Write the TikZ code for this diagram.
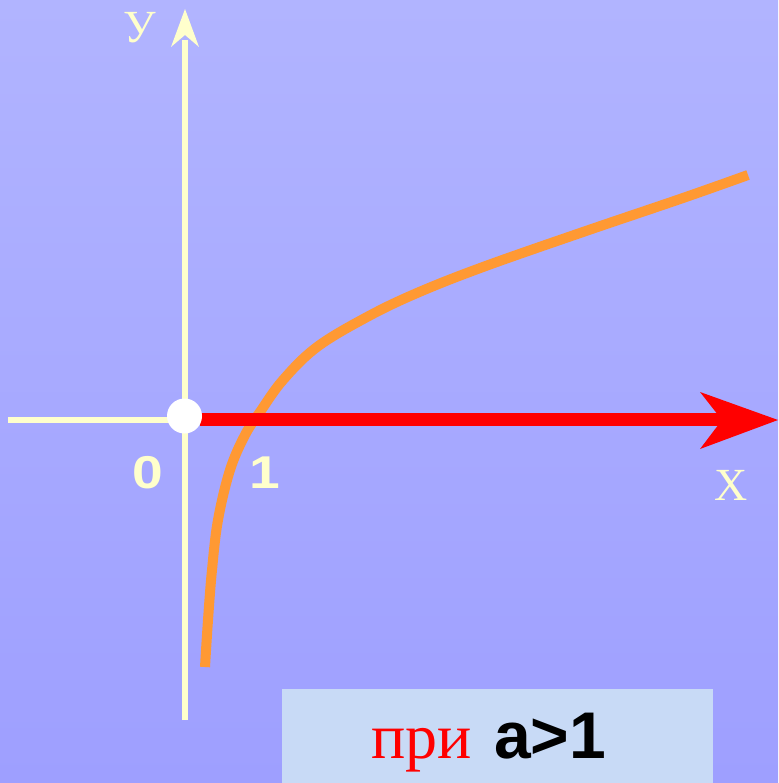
\documentclass[tikz,border=0pt]{standalone}
\usepackage{fontspec}
\setmainfont{Liberation Serif}
\newfontfamily\numfont{Liberation Sans}
\definecolor{bgtop}{RGB}{177,180,255}
\definecolor{bgbot}{RGB}{158,159,255}
\definecolor{axisyellow}{RGB}{255,255,204}
\definecolor{curveorange}{RGB}{255,153,51}
\definecolor{boxfill}{RGB}{200,218,246}
\begin{document}
\begin{tikzpicture}[x=1pt,y=-1pt,
  axisline/.style={draw=axisyellow,line width=5.5pt},
  axislabel/.style={text=axisyellow,inner sep=0pt,anchor=base,font=\fontsize{46}{46}\selectfont},
  numlabel/.style={text=axisyellow,inner sep=0pt,anchor=base,font=\numfont\bfseries\fontsize{46}{46}\selectfont},
  graphline/.style={draw=curveorange,line width=10pt},
  ]
\useasboundingbox (0,0) rectangle (778,783);
\shade[top color=bgtop,bottom color=bgbot] (0,0) rectangle (778,783);
% coordinates
\coordinate (O) at (185,420);
\coordinate (xl) at (8,420);
\coordinate (yb) at (185,720);
\coordinate (yt) at (185,40);
\coordinate (ytip) at (185,9);
\coordinate (rs) at (200,419.5);
\coordinate (re) at (724,419.5);
% x axis (negative part)
\draw[axisline] (xl) -- (O);
% y axis
\draw[axisline] (yb) -- (yt);
\fill[axisyellow] (ytip) -- (199,47) -- (185,35) -- (171,47) -- cycle;
% curve
\draw[graphline] plot[smooth,tension=0.6] coordinates {
 (205,667) (208,620) (212,570) (218,520) (230,470) (245,435) (260,412)
 (283,380) (317,347) (367,317) (417,293) (483,267) (583,232) (683,198) (748,175)};
% red positive x axis
\draw[red,line width=13pt] (rs) -- (re);
\fill[red] (778,420) -- (700,392) -- (722,420) -- (700,449) -- cycle;
% origin dot
\fill[white] (184.5,416) circle[radius=17.5];
% labels
\node[axislabel] (ylab) at (140,43) {У};
\node[axislabel] (xlab) at (731,500) {Х};
\node[numlabel] (zero) at (148,488) {\scalebox{1.2}[1]{0}};
\node[numlabel] (one) at (265,488) {\scalebox{1.2}[1]{1}};
% condition box
\fill[boxfill] (282,689) rectangle (713,783);
\node[inner sep=0pt,anchor=base west,text=red,font=\fontsize{64}{64}\selectfont] (pri) at (371,758) {при};
\node[inner sep=0pt,anchor=base west,text=black,font=\numfont\bfseries\fontsize{66}{66}\selectfont] (cond) at (494,758) {a>1};
\end{tikzpicture}
\end{document}
